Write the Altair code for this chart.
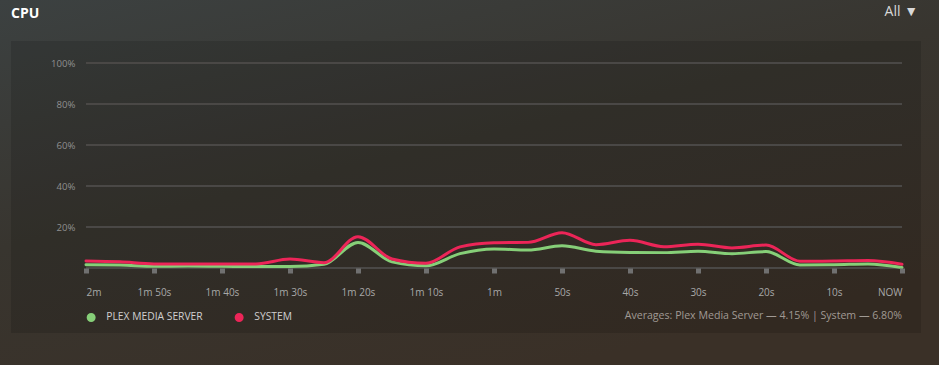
import altair as alt
import pandas as pd

# seconds ago, one sample every 5 s
seconds_ago = [120, 115, 110, 105, 100, 95, 90, 85, 80, 75, 70, 65, 60,
               55, 50, 45, 40, 35, 30, 25, 20, 15, 10, 5, 0]
plex = [1.6, 1.5, 0.8, 1.0, 0.8, 0.7, 0.7, 1.8, 12.5, 3.0, 1.1, 7.0, 9.3,
        8.8, 10.8, 8.2, 7.6, 7.5, 8.2, 7.0, 8.0, 1.5, 1.6, 2.0, 0.2]
system = [3.4, 3.0, 2.0, 2.0, 2.0, 2.0, 4.4, 2.6, 15.3, 4.4, 2.3, 10.3, 12.3,
          12.5, 17.2, 11.4, 13.5, 10.4, 11.6, 9.8, 11.2, 3.3, 3.4, 3.6, 1.8]
series_names = ["PLEX MEDIA SERVER", "SYSTEM"]
series_colors = ["#86cf78", "#ec2558"]

tick_values = [120, 110, 100, 90, 80, 70, 60, 50, 40, 30, 20, 10, 0]
tick_labels = ["2m", "1m 50s", "1m 40s", "1m 30s", "1m 20s", "1m 10s", "1m",
               "50s", "40s", "30s", "20s", "10s", "NOW"]
y_ticks = [0, 20, 40, 60, 80, 100]

title_text = "CPU"
filter_text = "All \u25bc"
averages_text = "Averages: Plex Media Server \u2014 4.15% | System \u2014 6.80%"

rows = []
for s, p, q in zip(seconds_ago, plex, system):
    rows.append({"sec": s, "series": series_names[0], "cpu": p})
    rows.append({"sec": s, "series": series_names[1], "cpu": q})
df = pd.DataFrame(rows)
grid_df = pd.DataFrame({"cpu": y_ticks})

label_expr = "''"
for v, l in zip(reversed(tick_values), reversed(tick_labels)):
    label_expr = f"datum.value == {v} ? '{l}' : ({label_expr})"

FONT = "Open Sans"

one = pd.DataFrame({"k": [0]})

bg = alt.Chart(one).mark_rect(
    fill=alt.Gradient(
        gradient="linear",
        stops=[alt.GradientStop(color="#3c4141", offset=0),
               alt.GradientStop(color="#38352f", offset=0.5),
               alt.GradientStop(color="#3a3027", offset=1)],
        x1=0, y1=0, x2=0.6, y2=1),
).encode(x=alt.value(-86), x2=alt.value(853), y=alt.value(-63), y2=alt.value(302))

panel = alt.Chart(one).mark_rect(fill="#000000", opacity=0.13).encode(
    x=alt.value(-75), x2=alt.value(835), y=alt.value(-22), y2=alt.value(270))

grid = alt.Chart(grid_df).mark_rule(color="#4a4846", strokeWidth=2).encode(
    y=alt.Y("cpu:Q", scale=alt.Scale(domain=[0, 100], nice=False)),
    x=alt.value(0), x2=alt.value(816))

title = alt.Chart(one).mark_text(
    text=title_text, font=FONT, fontSize=14, fontWeight="bold",
    color="#ffffff", align="left", baseline="middle",
).encode(x=alt.value(-75), y=alt.value(-49))

filt = alt.Chart(one).mark_text(
    text=filter_text, font=FONT, fontSize=14, color="#d8d8d8",
    align="right", baseline="middle",
).encode(x=alt.value(832), y=alt.value(-51))

avg = alt.Chart(one).mark_text(
    text=averages_text, font=FONT, fontSize=10.6, color="#a09a94",
    align="right", baseline="middle",
).encode(x=alt.value(816), y=alt.value(253))

lines = alt.Chart(df).mark_line(
    interpolate="monotone", strokeWidth=3, strokeCap="round"
).encode(
    x=alt.X("sec:Q",
            scale=alt.Scale(domain=[120, 0], nice=False, zero=False),
            axis=alt.Axis(values=tick_values, labelExpr=label_expr,
                          grid=False, domain=False, ticks=True,
                          tickSize=5, tickWidth=5, tickColor="#707070",
                          labelFlush=True, labelPadding=14,
                          labelFont=FONT, labelFontSize=10,
                          labelColor="#a8a8a8", title=None, zindex=1)),
    y=alt.Y("cpu:Q",
            scale=alt.Scale(domain=[0, 100], nice=False),
            axis=alt.Axis(values=y_ticks,
                          labelExpr="datum.value == 0 ? '' : datum.value + '%'",
                          grid=False,
                          domain=False, ticks=False, labelPadding=11,
                          labelFont=FONT, labelFontSize=9.6,
                          labelColor="#8f8f8f", title=None, zindex=1)),
    color=alt.Color("series:N",
                    scale=alt.Scale(domain=series_names, range=series_colors),
                    legend=alt.Legend(orient="none", legendX=0, legendY=249,
                                      direction="horizontal", title=None,
                                      symbolType="circle", symbolSize=20,
                                      symbolStrokeWidth=4.5, symbolOpacity=1,
                                      labelFont=FONT, labelFontSize=10.3,
                                      labelColor="#cfcfcf", columnPadding=24,
                                      labelOffset=10, zindex=1)),
    order="series:N",
)

chart = alt.layer(bg, panel, grid, title, filt, avg, lines).properties(
    width=816, height=205,
    autosize=alt.AutoSizeParams(type="none"),
    padding={"left": 86, "top": 63, "right": 37, "bottom": 97},
    background="#37352f",
).configure_view(stroke=None)

chart.save("out.html", embed_options={"renderer": "svg", "actions": False})
